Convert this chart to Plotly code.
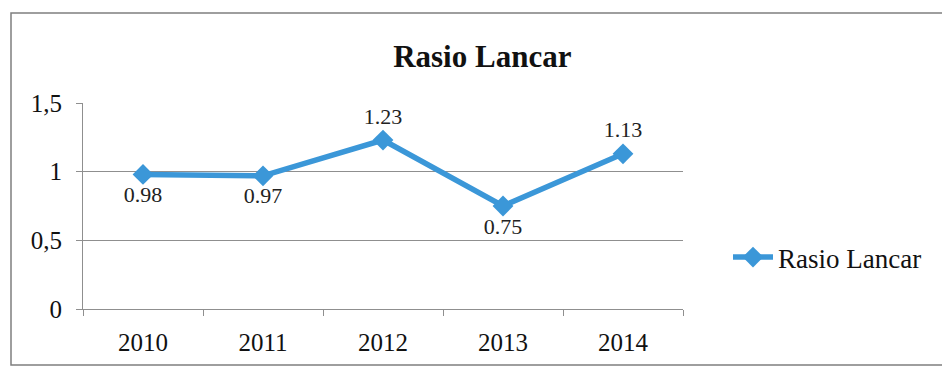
import plotly.graph_objects as go

years = ["2010", "2011", "2012", "2013", "2014"]
rasio_lancar = [0.98, 0.97, 1.23, 0.75, 1.13]
label_positions = ["bottom center", "bottom center", "top center", "bottom center", "top center"]
y_tick_vals = [0, 0.5, 1, 1.5]
y_tick_text = ["0", "0,5", "1", "1,5"]

SERIF = "Liberation Serif, Times New Roman, serif"
BLUE = "#3b97d8"
GRID = "#8f8f8f"

fig = go.Figure()
fig.add_trace(go.Scatter(
    x=years, y=rasio_lancar, name="Rasio Lancar",
    mode="lines+markers+text",
    line=dict(color=BLUE, width=5.5),
    marker=dict(symbol="diamond", size=16, color=BLUE),
    text=[f"{v:.2f}" for v in rasio_lancar],
    textposition=label_positions,
    textfont=dict(family=SERIF, size=22, color="#222222"),
    cliponaxis=False,
))

fig.update_layout(
    width=942, height=374,
    margin=dict(l=83, r=259, t=103, b=65),
    paper_bgcolor="white", plot_bgcolor="white",
    title=dict(text="<b>Rasio Lancar</b>", x=0.512, xref="container", xanchor="center",
               y=0.85, yref="container", yanchor="middle",
               font=dict(family=SERIF, size=31, color="#111111")),
    showlegend=True,
    legend=dict(x=1.075, xanchor="left", y=0.25, yanchor="middle",
                font=dict(family=SERIF, size=27, color="#111111"),
                bgcolor="rgba(0,0,0,0)", itemwidth=40),
    xaxis=dict(type="category", showgrid=False, showline=True, linecolor=GRID, linewidth=1,
               ticks="outside", tickson="boundaries", ticklen=6, tickcolor=GRID,
               ticklabelstandoff=11,
               tickfont=dict(family=SERIF, size=25, color="#111111"),
               range=[-0.5, 4.5]),
    yaxis=dict(range=[0, 1.5], tickvals=y_tick_vals, ticktext=y_tick_text,
               showgrid=True, gridcolor=GRID, gridwidth=1, zeroline=False,
               showline=True, linecolor=GRID, linewidth=1,
               ticks="outside", ticklen=6, tickcolor=GRID, ticklabelstandoff=9,
               tickfont=dict(family=SERIF, size=25, color="#111111")),
    shapes=[dict(type="rect", xref="paper", yref="paper",
                 x0=-72/600, x1=(950-83)/600, y0=-56/206, y1=(309-13)/206,
                 line=dict(color="#7f7f7f", width=1.5), fillcolor="rgba(0,0,0,0)", layer="below")],
)

fig.write_html("out.html")
